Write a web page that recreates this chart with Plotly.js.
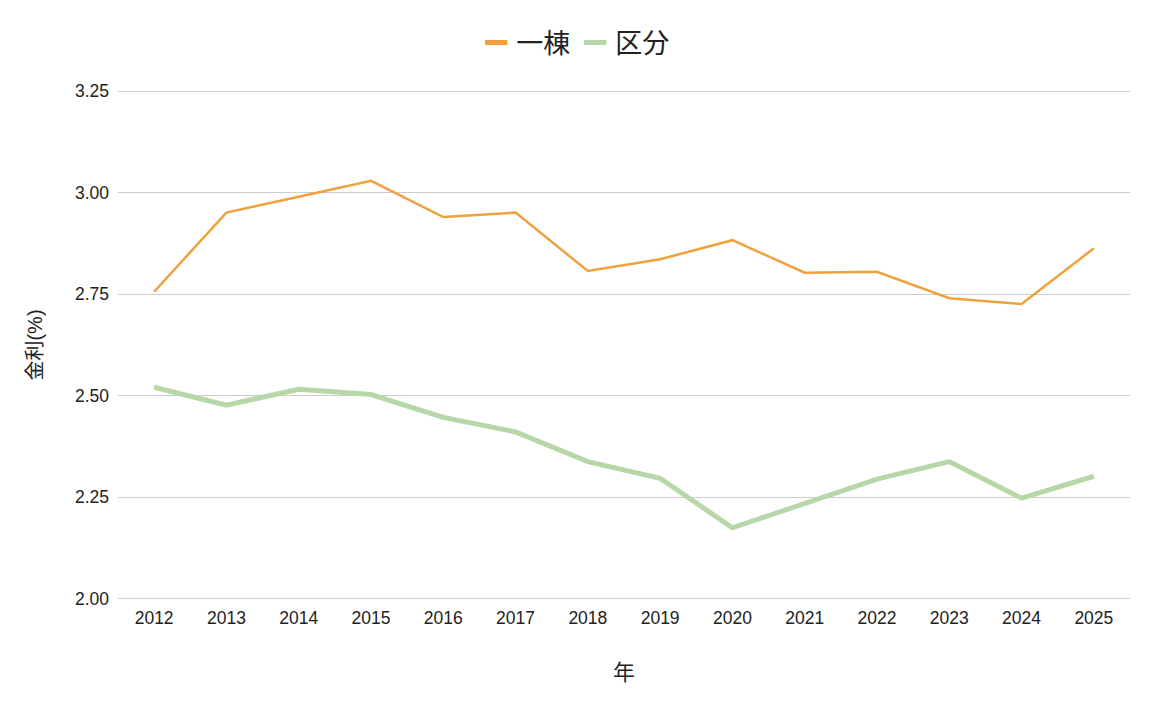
<!DOCTYPE html>
<html>
<head>
<meta charset="utf-8">
<script src="https://cdn.plot.ly/plotly-3.0.1.min.js"></script>
<style>html,body{margin:0;padding:0;background:#fff;}#chart{width:1162px;height:712px;}</style>
</head>
<body>
<div id="chart"></div>
<script>
const years = ['2012','2013','2014','2015','2016','2017','2018','2019','2020','2021','2022','2023','2024','2025'];
const ittou = [2.756, 2.951, 2.990, 3.029, 2.940, 2.951, 2.807, 2.836, 2.883, 2.803, 2.805, 2.740, 2.726, 2.863];
const kubun = [2.521, 2.477, 2.516, 2.503, 2.447, 2.411, 2.338, 2.297, 2.175, 2.234, 2.295, 2.338, 2.248, 2.302];
const seriesNames = ['一棟', '区分'];
const seriesColors = ['#EFA23C', '#B7D7A8'];
const yTicks = [2.00, 2.25, 2.50, 2.75, 3.00, 3.25];
const yTickText = ['2.00', '2.25', '2.50', '2.75', '3.00', '3.25'];
const xTitle = '年';
const yTitle = '金利(%)';

const FONT = 'Liberation Sans, Arial, Noto Sans CJK JP, sans-serif';

const traces = [
  {x: years, y: ittou, name: seriesNames[0], type: 'scatter', mode: 'lines', showlegend: false,
   line: {color: seriesColors[0], width: 2.5}},
  {x: years, y: kubun, name: seriesNames[1], type: 'scatter', mode: 'lines', showlegend: false,
   line: {color: seriesColors[1], width: 5}},
  // legend-only entries (short thick swatches, as in the reference)
  {x: [null], y: [null], name: seriesNames[0], type: 'scatter', mode: 'markers', hoverinfo: 'skip',
   marker: {symbol: 'line-ew', size: 18, color: seriesColors[0], line: {color: seriesColors[0], width: 5}}},
  {x: [null], y: [null], name: seriesNames[1], type: 'scatter', mode: 'markers', hoverinfo: 'skip',
   marker: {symbol: 'line-ew', size: 18, color: seriesColors[1], line: {color: seriesColors[1], width: 5}}}
];

const layout = {
  width: 1162, height: 712,
  margin: {l: 118, r: 32, t: 88, b: 110},
  paper_bgcolor: '#fff', plot_bgcolor: '#fff',
  font: {family: FONT, color: '#222', size: 17},
  showlegend: true,
  legend: {orientation: 'h', xref: 'container', yref: 'container', x: 0.495, xanchor: 'center',
           y: 1 - 43/712, yanchor: 'middle', font: {size: 27, color: '#222'}, itemwidth: 30,
           tracegroupgap: 0},
  xaxis: {type: 'category', range: [-0.5, 13.5], showgrid: false, zeroline: false, showline: false, ticks: '',
          ticklabelstandoff: 3,
          tickfont: {size: 17.5, color: '#222'},
          title: {text: xTitle, font: {size: 22, color: '#222'}, standoff: 38}},
  yaxis: {range: [1.9925, 3.2575], tickvals: yTicks, ticktext: yTickText, showgrid: true,
          gridcolor: '#cccccc', gridwidth: 1, zeroline: false, showline: false, ticks: '',
          ticklabelstandoff: 8,
          tickfont: {size: 17.5, color: '#222'},
          title: {text: yTitle, font: {size: 20, color: '#222'}, standoff: 26}}
};

Plotly.newPlot('chart', traces, layout, {displayModeBar: false, staticPlot: true});
</script>
</body>
</html>
